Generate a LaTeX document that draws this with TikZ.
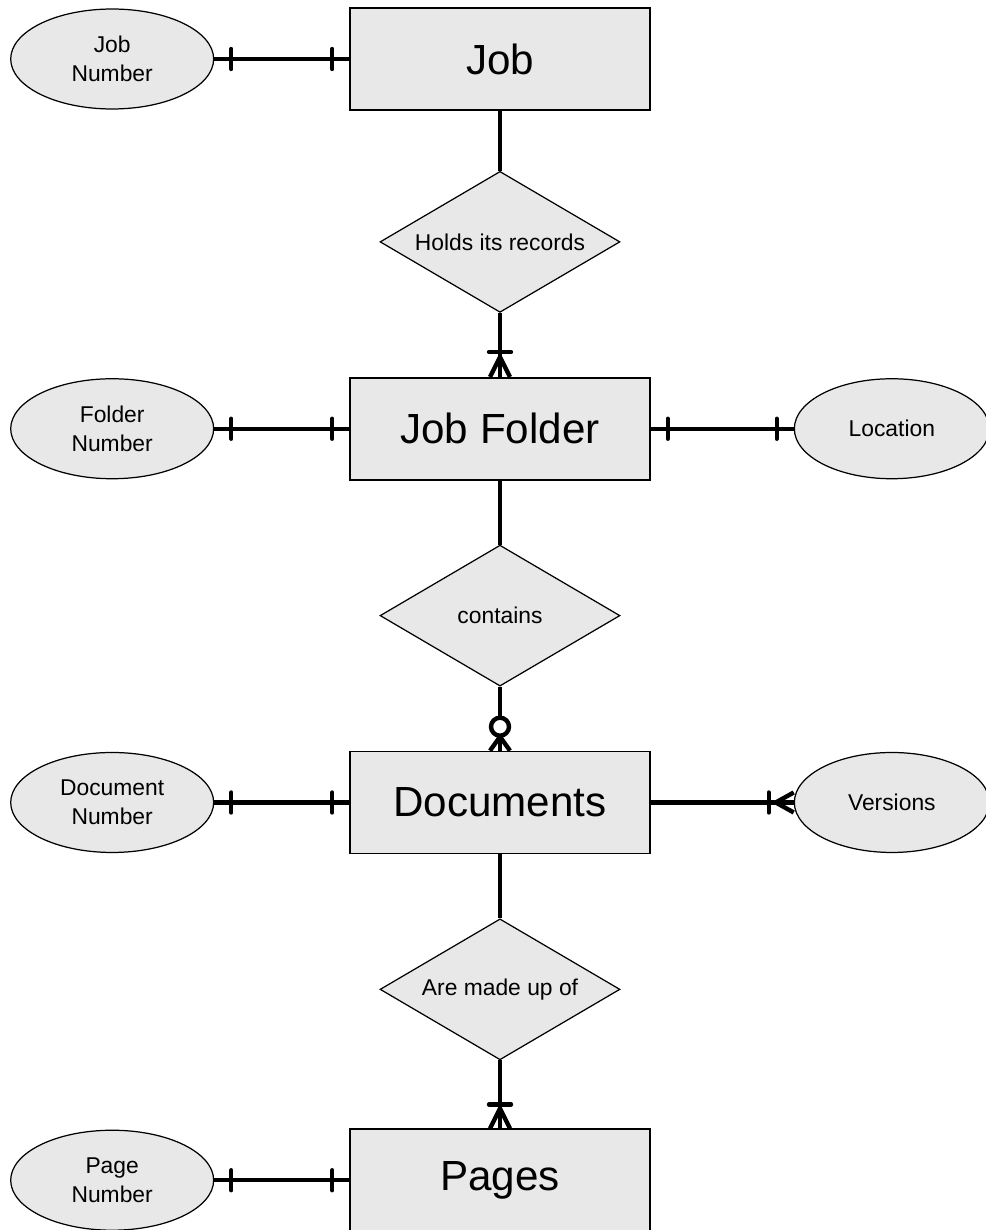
\documentclass[tikz,border=0pt]{standalone}
\usepackage{fontspec}
\setmainfont{Liberation Sans}
\usetikzlibrary{positioning,shapes.geometric}

\begin{document}
\begin{tikzpicture}[x=0.02cm, y=-0.02cm, node distance=1.28cm,
    entity/.style={draw, line width=0.9pt, fill=gray!18, minimum width=6cm, minimum height=2.04cm, font=\fontsize{24}{28}\selectfont},
    attr/.style={draw, ellipse, line width=0.7pt, fill=gray!18, minimum width=4.06cm, minimum height=2cm, inner sep=0pt, align=center, font=\fontsize{13}{16.4}\selectfont},
    rel/.style={draw, diamond, aspect=1.7, line width=0.7pt, fill=gray!18, minimum width=4.8cm, minimum height=2.82cm, inner sep=0pt, font=\fontsize{13}{16}\selectfont},
    link/.style={line width=2.5pt, line join=round},
    tick/.style={line width=2.5pt, line cap=round}]
    \useasboundingbox (0,0) rectangle (986,1230);

    % entities and relationships
    \node[entity] (job) at (500,59) {Job};
    \node[rel, below=1.2cm of job] (holds) {Holds its records};
    \node[entity, below=of holds] (jf) {Job Folder};
    \node[rel, below=of jf] (cont) {contains};
    \node[entity, below=of cont] (doc) {Documents};
    \node[rel, below=of doc] (made) {Are made up of};
    \node[entity, below=1.36cm of made] (pg) {Pages};

    % attributes
    \node[attr, left=2.7cm of job] (jn) {Job\\Number};
    \node[attr, left=2.7cm of jf] (fn) {Folder\\Number};
    \node[attr, right=2.86cm of jf, minimum width=3.9cm] (loc) {Location};
    \node[attr, left=2.7cm of doc] (dn) {Document\\Number};
    \node[attr, right=2.86cm of doc, minimum width=3.9cm] (ver) {Versions};
    \node[attr, left=2.7cm of pg] (pn) {Page\\Number};

    \draw[link] (job) -- (holds);
    \draw[link] (holds) -- (jf);
    \draw[link] (jf) -- (cont);
    \draw[link] (cont) -- (doc);
    \draw[link] (doc) -- (made);
    \draw[link] (made) -- (pg);

    % one and only one
    \foreach \a/\e in {jn/job, fn/jf, dn/doc, pn/pg} {
        \draw[link] (\a) -- (\e);
        \draw[tick] (\a.east) ++(17,-10) -- ++(0,20);
        \draw[tick] (\e.west) ++(-17,-10) -- ++(0,20);
    }
    \draw[link] (jf) -- (loc);
    \draw[tick] (jf.east) ++(17,-10) -- ++(0,20);
    \draw[tick] (loc.west) ++(-17,-10) -- ++(0,20);

    % one or many
    \draw[tick] (jf.north) ++(-11,-25) -- ++(22,0);
    \draw[link] (jf.north) ++(-10,0) -- ++(10,-20) -- ++(10,20);
    \draw[tick] (pg.north) ++(-11,-24) -- ++(22,0);
    \draw[link] (pg.north) ++(-10,0) -- ++(10,-20) -- ++(10,20);
    \draw[link] (doc) -- (ver);
    \draw[tick] (ver.west) ++(-25,-10) -- ++(0,20);
    \draw[link] (ver.west) ++(0,-10) -- ++(-18,10) -- ++(18,10);

    % zero or many
    \draw[link, fill=white] (doc.north) ++(0,-24) circle[radius=0.18cm];
    \draw[link] (doc.north) ++(-10,0) -- ++(10,-14) -- ++(10,14);
\end{tikzpicture}
\end{document}
